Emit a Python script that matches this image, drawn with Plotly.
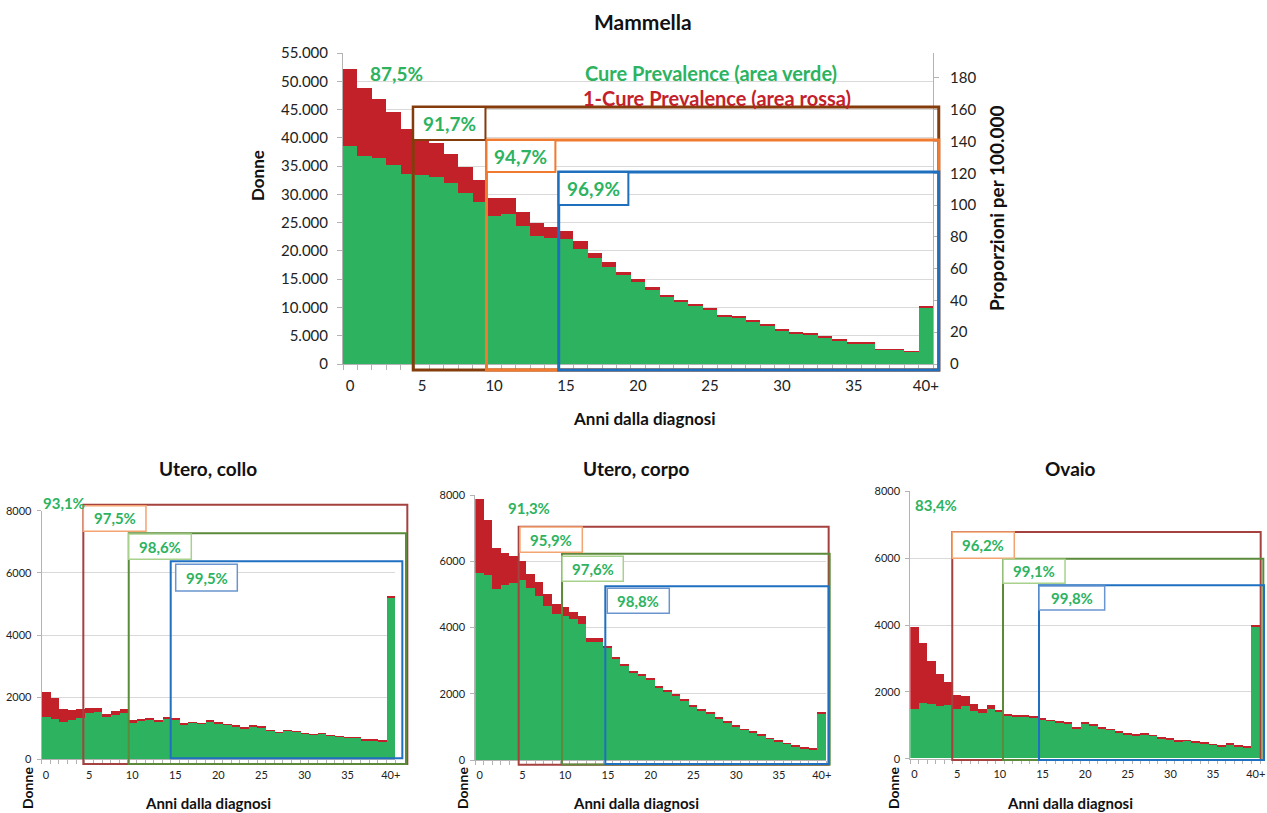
import plotly.graph_objects as go

W, H = 1267, 813
FONT = "Lato, 'Open Sans', sans-serif"
GREEN = "#2DB35F"
RED = "#C3212A"
TXT_GREEN = "#2DB35F"
TXT_RED = "#C3212A"
GRID = "#D9D9D9"
AXL = "#B3B3B3"

years = list(range(41))

# ---- Mammella (Donne) ----
mam_total = [52200, 48870, 46910, 44530, 41620, 39840, 39120, 37220, 34840, 32520,
             29310, 29310, 26930, 24910, 24260, 23540, 21700, 19620, 17960, 16290,
             14980, 13620, 12130, 11300, 10640, 9750, 8560, 8320, 7730, 6960,
             6180, 5590, 5350, 4820, 4340, 3800, 3800, 2620, 2620, 2260, 10110]
mam_cure = [38530, 36860, 36390, 35200, 33530, 33410, 33000, 31990, 30320, 28600,
            26220, 26460, 24320, 22650, 22300, 22120, 20330, 18730, 17180, 15760,
            14450, 13140, 11770, 10880, 10290, 9570, 8380, 8150, 7550, 6780,
            6000, 5410, 5230, 4640, 4160, 3630, 3630, 2500, 2500, 2140, 9990]

# ---- Utero, collo ----
col_total = [2177, 1984, 1619, 1598, 1619, 1651, 1651, 1469, 1566, 1630,
             1265, 1298, 1351, 1265, 1351, 1308, 1147, 1201, 1169, 1244,
             1201, 1137, 1083, 1029, 1083, 1051, 944, 869, 933, 901,
             836, 815, 847, 783, 751, 718, 718, 633, 633, 601, 5244]
col_cure = [1362, 1319, 1201, 1265, 1330, 1501, 1544, 1383, 1448, 1512,
            1169, 1244, 1298, 1223, 1319, 1276, 1126, 1180, 1147, 1212,
            1169, 1115, 1062, 1008, 1062, 1029, 922, 858, 922, 890,
            826, 804, 836, 772, 740, 708, 708, 622, 622, 590, 5223]

# ---- Utero, corpo ----
cor_total = [7889, 7235, 6390, 6249, 6169, 5997, 5605, 5363, 5001, 4699,
             4619, 4478, 4337, 3683, 3683, 3441, 3119, 2888, 2687, 2586,
             2486, 2234, 2093, 1982, 1841, 1640, 1530, 1439, 1278, 1157,
             1047, 936, 855, 765, 654, 584, 513, 433, 382, 342, 1439]
cor_cure = [5655, 5575, 5162, 5273, 5333, 5444, 5192, 4941, 4649, 4397,
            4347, 4256, 4116, 3552, 3552, 3371, 3059, 2838, 2636, 2536,
            2435, 2174, 2053, 1942, 1811, 1610, 1499, 1409, 1248, 1127,
            1016, 906, 825, 735, 634, 564, 493, 413, 362, 322, 1399]

# ---- Ovaio ----
ova_total = [3940, 3461, 2913, 2514, 2294, 1895, 1865, 1626, 1486, 1586,
             1446, 1337, 1277, 1277, 1247, 1187, 1147, 1097, 1067, 928,
             1067, 1007, 928, 878, 798, 748, 708, 738, 698, 628,
             589, 529, 549, 499, 469, 429, 389, 449, 389, 359, 3970]
ova_cure = [1476, 1656, 1626, 1566, 1596, 1486, 1576, 1426, 1357, 1486,
            1377, 1297, 1247, 1247, 1227, 1167, 1127, 1077, 1047, 908,
            1047, 988, 908, 858, 778, 728, 688, 718, 678, 608,
            569, 509, 529, 479, 449, 409, 369, 429, 369, 339, 3950]

# percentages (cure fraction) shown in the charts
mam_pct = ["87,5%", "91,7%", "94,7%", "96,9%"]
col_pct = ["93,1%", "97,5%", "98,6%", "99,5%"]
cor_pct = ["91,3%", "95,9%", "97,6%", "98,8%"]
ova_pct = ["83,4%", "96,2%", "99,1%", "99,8%"]

BROWN = "#843C0C"
ORANGE = "#F07A2F"
BLUE = "#1F6FBF"
S_RED = "#A5413F"
S_ORANGE = "#F4A470"
S_GREEN = "#5B8A3A"
S_GREEN_L = "#A9D18E"
S_BLUE = "#1F70C1"
S_BLUE_L = "#6B95CF"


def xdom(p0, p1):
    return [p0 / W, p1 / W]


def ydom(ptop, pbot):
    return [1 - pbot / H, 1 - ptop / H]


def px(x):
    return x / W


def py(y):
    return 1 - y / H


XR = [-0.5, 40.5]

charts = [
    dict(x="x", y="y", xd=xdom(343, 933), yd=ydom(53, 364), yr=[0, 55000],
         total=mam_total, cure=mam_cure, pct=mam_pct, big=True,
         free=(3.23, 51460),
         boxes=[(4.38, 40.9, -1060, 45450, BROWN, 3),
                (9.47, 40.9, -1060, 39610, ORANGE, 3),
                (14.49, 40.9, -1060, 33950, BLUE, 3)],
         labels=[(4.38, 9.40, 39610, 45450, BROWN),
                 (9.47, 14.26, 33950, 39610, ORANGE),
                 (14.49, 19.33, 28120, 33950, BLUE)]),
    dict(x="x2", y="y3", xd=xdom(41.7, 395), yd=ydom(510.7, 759.3), yr=[0, 8000],
         total=col_total, cure=col_cure, pct=col_pct, big=False,
         free=(2.03, 8257),
         boxes=[(4.33, 41.93, -151, 8193, S_RED, 2),
                (9.60, 41.78, -151, 7273, S_GREEN, 2),
                (14.47, 41.35, 30, 6372, S_BLUE, 2)],
         labels=[(4.33, 11.60, 7337, 8161, S_ORANGE),
                 (9.60, 16.86, 6436, 7250, S_GREEN_L),
                 (15.05, 22.20, 5416, 6275, S_BLUE_L)]),
    dict(x="x3", y="y4", xd=xdom(475.3, 826), yd=ydom(495, 760), yr=[0, 8000],
         total=cor_total, cure=cor_cure, pct=cor_pct, big=False,
         free=(5.78, 7617),
         boxes=[(4.57, 40.81, -142, 7043, S_RED, 2),
                (9.64, 40.93, -135, 6228, S_GREEN, 2),
                (14.70, 40.81, -121, 5244, S_BLUE, 2)],
         labels=[(4.72, 12.01, 6270, 7034, S_ORANGE),
                 (9.64, 16.80, 5395, 6149, S_GREEN_L),
                 (14.93, 22.18, 4429, 5183, S_BLUE_L)]),
    dict(x="x4", y="y5", xd=xdom(910.3, 1260), yd=ydom(491.3, 758.7), yr=[0, 8000],
         total=ova_total, cure=ova_cure, pct=ova_pct, big=False,
         free=(2.51, 7590),
         boxes=[(4.42, 40.58, -39, 6782, S_RED, 2),
                (10.37, 40.89, -39, 5983, S_GREEN, 2),
                (14.59, 40.97, -39, 5188, S_BLUE, 2)],
         labels=[(4.42, 11.69, 5995, 6782, S_ORANGE),
                 (10.37, 17.64, 5248, 5966, S_GREEN_L),
                 (14.59, 22.29, 4449, 5167, S_BLUE_L)]),
]

fig = go.Figure()
shapes = []
annotations = []


def fx(v):
    return (v - XR[0]) / (XR[1] - XR[0])


for c in charts:
    red_part = [t - g for t, g in zip(c["total"], c["cure"])]
    fig.add_trace(go.Bar(x=years, y=c["cure"], marker=dict(color=GREEN, line=dict(width=0)),
                         xaxis=c["x"], yaxis=c["y"], showlegend=False, hoverinfo="x+y"))
    fig.add_trace(go.Bar(x=years, y=red_part, marker=dict(color=RED, line=dict(width=0)),
                         xaxis=c["x"], yaxis=c["y"], showlegend=False, hoverinfo="x+y"))

    yr = c["yr"]

    def fy(v, yr=yr):
        return (v - yr[0]) / (yr[1] - yr[0])

    xref = c["x"] + " domain"
    yref = c["y"] + " domain"
    for (x0, x1, y0, y1, col, lw) in c["boxes"]:
        shapes.append(dict(type="rect", xref=xref, yref=yref, x0=fx(x0), x1=fx(x1),
                           y0=fy(y0), y1=fy(y1), line=dict(color=col, width=lw),
                           fillcolor="rgba(0,0,0,0)", layer="above"))
    lab_lw = 2 if c["big"] else 1.5
    fsz = 19 if c["big"] else 15
    for (x0, x1, y0, y1, col), txt_ in zip(c["labels"], c["pct"][1:]):
        shapes.append(dict(type="rect", xref=xref, yref=yref, x0=fx(x0), x1=fx(x1),
                           y0=fy(y0), y1=fy(y1), line=dict(color=col, width=lab_lw),
                           fillcolor="white", layer="above"))
        annotations.append(dict(xref=xref, yref=yref, x=fx((x0 + x1) / 2), y=fy((y0 + y1) / 2),
                                text="<b>" + txt_ + "</b>", showarrow=False,
                                xanchor="center", yanchor="middle",
                                font=dict(family=FONT, size=fsz, color=TXT_GREEN)))
    fxv, fyv = c["free"]
    annotations.append(dict(xref=xref, yref=yref, x=fx(fxv), y=fy(fyv),
                            text="<b>" + c["pct"][0] + "</b>", showarrow=False,
                            xanchor="center", yanchor="middle",
                            font=dict(family=FONT, size=fsz, color=TXT_GREEN)))

# invisible trace so the secondary (right) axis of the main chart is drawn
fig.add_trace(go.Scatter(x=[0], y=[0], xaxis="x", yaxis="y2", mode="markers",
                         marker=dict(opacity=0), showlegend=False, hoverinfo="skip"))


def xaxis_cfg(c, big):
    return dict(domain=c["xd"], anchor=c["y"], range=XR, tickmode="linear", tick0=0, dtick=5,
                labelalias={"40": "40+"}, ticks="", showgrid=False, zeroline=False,
                showline=True, linecolor=AXL, linewidth=1, automargin=False,
                ticklabelstandoff=8 if big else 5,
                tickfont=dict(family=FONT, size=15 if big else 11, color="#222"),
                minor=dict(ticks="outside", tick0=-0.5, dtick=1, ticklen=5 if big else 4,
                           tickcolor=AXL, tickwidth=1, showgrid=False))


def yaxis_cfg(c, big):
    return dict(domain=c["yd"], anchor=c["x"], range=c["yr"],
                tickmode="linear", tick0=0, dtick=5000 if big else 2000,
                tickformat="," if big else "d", automargin=False,
                ticks="outside", ticklen=5 if big else 4, tickcolor=AXL,
                showline=True, linecolor=AXL, linewidth=1,
                showgrid=True, gridcolor=GRID, gridwidth=1, zeroline=False,
                ticklabelstandoff=6 if big else 3,
                tickfont=dict(family=FONT, size=15 if big else 11, color="#222"))


layout = dict(
    width=W, height=H, margin=dict(l=0, r=0, t=0, b=0, autoexpand=False),
    paper_bgcolor="white", plot_bgcolor="white",
    barmode="stack", bargap=0, separators=",.",
    font=dict(family=FONT, color="#222"),
    showlegend=False,
)
layout["xaxis"] = xaxis_cfg(charts[0], True)
layout["yaxis"] = yaxis_cfg(charts[0], True)
layout["xaxis2"] = xaxis_cfg(charts[1], False)
layout["yaxis3"] = yaxis_cfg(charts[1], False)
layout["xaxis3"] = xaxis_cfg(charts[2], False)
layout["yaxis4"] = yaxis_cfg(charts[2], False)
layout["xaxis4"] = xaxis_cfg(charts[3], False)
layout["yaxis5"] = yaxis_cfg(charts[3], False)
layout["yaxis2"] = dict(domain=charts[0]["yd"], anchor="x", overlaying="y", side="right",
                        range=[0, 195.7], tickmode="linear", tick0=0, dtick=20,
                        ticks="outside", ticklen=5, tickcolor=AXL, automargin=False,
                        showline=True, linecolor=AXL, showgrid=False, zeroline=False,
                        ticklabelstandoff=8,
                        tickfont=dict(family=FONT, size=15, color="#222"))


# titles and text annotations (paper coordinates)
def txt(x, y, s, size, color="#111", angle=0, bold=True):
    annotations.append(dict(xref="paper", yref="paper", x=px(x), y=py(y),
                            text=("<b>" + s + "</b>") if bold else s, showarrow=False,
                            xanchor="center", yanchor="middle", textangle=angle,
                            font=dict(family=FONT, size=size, color=color)))


txt(643, 22, "Mammella", 21)
txt(644, 418, "Anni dalla diagnosi", 17)
txt(258, 176, "Donne", 17, angle=-90)
txt(997, 208, "Proporzioni per 100.000", 19, angle=-90)
txt(711, 73, "Cure Prevalence (area verde)", 20, color=TXT_GREEN)
txt(717, 98, "1-Cure Prevalence (area rossa)", 20, color=TXT_RED)

for cx, title in [(208, "Utero, collo"), (636, "Utero, corpo"), (1070, "Ovaio")]:
    txt(cx, 468, title, 19)
    txt(cx, 803, "Anni dalla diagnosi", 15)
for dx in [27, 462, 893]:
    txt(dx, 788, "Donne", 14, angle=-90)

layout["shapes"] = shapes
layout["annotations"] = annotations
fig.update_layout(**layout)

fig.write_html("out.html", config={"displayModeBar": False},
               post_script="document.body.style.margin='0';")
